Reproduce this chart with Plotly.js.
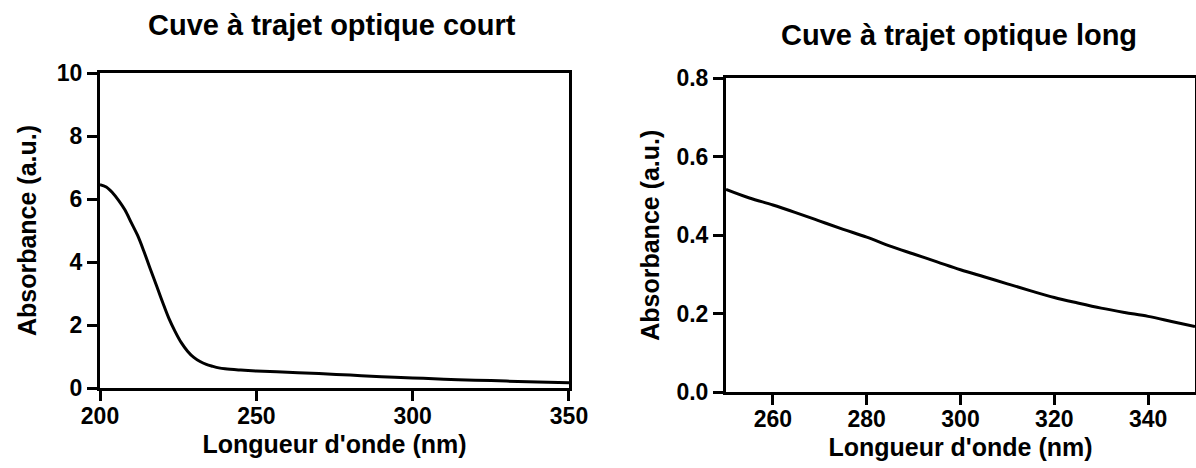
<!DOCTYPE html>
<html>
<head>
<meta charset="utf-8">
<script src="https://cdn.plot.ly/plotly-3.0.1.min.js"></script>
<style>html,body{margin:0;padding:0;background:#fff;}#chart{width:1196px;height:468px;}</style>
</head>
<body>
<div id="chart"></div>
<script>
// Short path cuvette (left panel)
const shortWavelength = [200, 202, 204, 206, 208, 210, 212, 214, 216, 218, 220, 222, 224, 226, 228, 230, 232, 234, 236, 238, 240, 245, 250, 260, 270, 280, 290, 300, 310, 320, 330, 340, 350];
const shortAbsorbance = [6.45, 6.38, 6.2, 5.95, 5.65, 5.25, 4.85, 4.35, 3.8, 3.27, 2.73, 2.22, 1.8, 1.44, 1.17, 0.97, 0.84, 0.75, 0.69, 0.64, 0.61, 0.57, 0.54, 0.5, 0.46, 0.41, 0.36, 0.32, 0.28, 0.25, 0.22, 0.19, 0.17];
// Long path cuvette (right panel)
const longWavelength = [250, 255, 260, 265, 270, 275, 280, 285, 290, 295, 300, 305, 310, 315, 320, 325, 330, 335, 340, 345, 350];
const longAbsorbance = [0.517, 0.495, 0.477, 0.457, 0.436, 0.415, 0.395, 0.372, 0.352, 0.332, 0.312, 0.294, 0.276, 0.258, 0.241, 0.227, 0.214, 0.203, 0.193, 0.18, 0.167];

const titleLeft = "Cuve à trajet optique court";
const titleRight = "Cuve à trajet optique long";
const xTitle = "Longueur d'onde (nm)";
const yTitle = "Absorbance (a.u.)";
const leftXTicks = [200, 250, 300, 350];
const leftYTicks = [0, 2, 4, 6, 8, 10];
const rightXTicks = [260, 280, 300, 320, 340];
const rightYTicks = [0, 0.2, 0.4, 0.6, 0.8];

const FONT = "Liberation Sans, Arial, Helvetica, sans-serif";
const tickFont = {family: FONT, size: 23, color: "#000", weight: 700};
const axTitleFont = {family: FONT, size: 25, color: "#000", weight: 700};
const yTitleFont = {family: FONT, size: 25, color: "#000", weight: 700};
const chartTitleFont = {family: FONT, size: 29, color: "#000", weight: 700};

function axisBase() {
  return {
    showline: true, linewidth: 3, linecolor: "#000", mirror: true,
    ticks: "outside", ticklen: 10, tickwidth: 3, tickcolor: "#000",
    showgrid: false, zeroline: false, tickfont: tickFont, fixedrange: true
  };
}

const traces = [
  {x: shortWavelength, y: shortAbsorbance, type: "scatter", mode: "lines", line: {color: "#000", width: 3, shape: "spline"}, xaxis: "x", yaxis: "y", showlegend: false, hoverinfo: "skip"},
  {x: longWavelength, y: longAbsorbance, type: "scatter", mode: "lines", line: {color: "#000", width: 3, shape: "spline"}, xaxis: "x2", yaxis: "y2", showlegend: false, hoverinfo: "skip"}
];

const layout = {
  width: 1196, height: 468,
  margin: {l: 100, r: 1, t: 73, b: 76},
  paper_bgcolor: "#fff", plot_bgcolor: "#fff",
  showlegend: false,
  xaxis: Object.assign(axisBase(), {domain: [0, 0.4283], range: [200, 350], tickvals: leftXTicks, anchor: "y",
    ticklabelstandoff: -5, title: {text: xTitle, font: axTitleFont, standoff: 8}}),
  yaxis: Object.assign(axisBase(), {domain: [0.0125, 1.0], range: [0, 10], tickvals: leftYTicks, anchor: "x",
    title: {text: yTitle, font: yTitleFont, standoff: 14}}),
  xaxis2: Object.assign(axisBase(), {domain: [0.5717, 1.0], range: [250, 350], tickvals: rightXTicks, anchor: "y2",
    ticklabelstandoff: -6, title: {text: xTitle, font: axTitleFont, standoff: 8}}),
  yaxis2: Object.assign(axisBase(), {domain: [0, 0.983], range: [0, 0.8], tickvals: rightYTicks, tickformat: ".1f", anchor: "x2",
    title: {text: yTitle, font: yTitleFont, standoff: 10}}),
  annotations: [
    {text: titleLeft, xref: "paper", yref: "paper", x: (332 - 100) / 1095, y: 1.0 + (73 - 25) / 319, xanchor: "center", yanchor: "middle", showarrow: false,
      font: chartTitleFont},
    {text: titleRight, xref: "paper", yref: "paper", x: (959 - 100) / 1095, y: 1.0 + (73 - 35) / 319, xanchor: "center", yanchor: "middle", showarrow: false,
      font: chartTitleFont}
  ]
};

Plotly.newPlot("chart", traces, layout, {displayModeBar: false, staticPlot: true});
</script>
</body>
</html>
